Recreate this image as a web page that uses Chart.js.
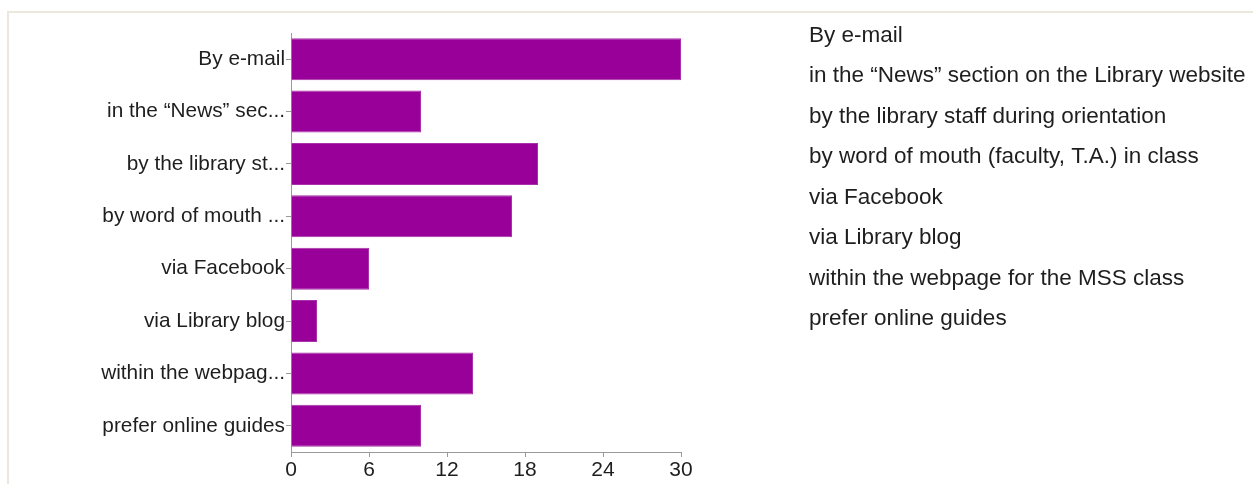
<!DOCTYPE html>
<html>
<head>
<meta charset="utf-8">
<script src="https://cdn.jsdelivr.net/npm/chart.js@4"></script>
<style>
html,body{margin:0;padding:0;background:#fff;}
#wrap{position:relative;width:1253px;height:484px;overflow:hidden;}
#frame{position:absolute;left:7px;top:11px;width:1260px;height:500px;border-top:2px solid #ebe9dc;border-left:2px solid #ece7dc;box-sizing:border-box;}
#c{position:absolute;left:0;top:0;}
</style>
</head>
<body>
<div id="wrap">
<div id="frame"></div>
<canvas id="c" width="1253" height="484"></canvas>
</div>
<script>
const categories = [
  "By e-mail",
  "in the \u201cNews\u201d section on the Library website",
  "by the library staff during orientation",
  "by word of mouth (faculty, T.A.) in class",
  "via Facebook",
  "via Library blog",
  "within the webpage for the MSS class",
  "prefer online guides"
];
const tickLabels = [
  "By e-mail",
  "in the \u201cNews\u201d sec...",
  "by the library st...",
  "by word of mouth ...",
  "via Facebook",
  "via Library blog",
  "within the webpag...",
  "prefer online guides"
];
const values = [30, 10, 19, 17, 6, 2, 14, 10];
const xTicks = [0, 6, 12, 18, 24, 30];

const FONT = "'Liberation Sans', Arial, sans-serif";

const sideList = {
  id: 'sideList',
  afterDraw(chart) {
    const ctx = chart.ctx;
    ctx.save();
    ctx.font = "22.5px " + FONT;
    ctx.fillStyle = "#1e1e1e";
    ctx.textAlign = "left";
    ctx.textBaseline = "middle";
    categories.forEach((c, i) => {
      ctx.fillText(c, 809, 35.5 + i * 40.5);
    });
    ctx.restore();
  }
};

new Chart(document.getElementById('c'), {
  type: 'bar',
  data: {
    labels: tickLabels,
    datasets: [{
      data: values,
      backgroundColor: '#990099',
      borderColor: '#a830a8',
      borderWidth: 1,
      barPercentage: 0.8,
      categoryPercentage: 1.0
    }]
  },
  options: {
    indexAxis: 'y',
    responsive: false,
    animation: false,
    layout: { padding: { top: 33, right: 572, left: 0, bottom: 0 } },
    plugins: { legend: { display: false }, tooltip: { enabled: false } },
    scales: {
      x: {
        min: 0, max: 30,
        afterBuildTicks(scale) { scale.ticks = xTicks.map(v => ({ value: v })); },
        afterFit(scale) { scale.height = 32; },
        grid: { drawOnChartArea: false, drawTicks: true, tickLength: 5, color: '#9a9a9a' },
        border: { display: true, color: '#9a9a9a', width: 1 },
        ticks: { color: '#1e1e1e', font: { family: FONT, size: 21 }, padding: 1, maxRotation: 0 }
      },
      y: {
        afterFit(scale) { scale.width = 291; },
        grid: { offset: false, drawOnChartArea: false, drawTicks: true, tickLength: 5, color: '#9a9a9a' },
        border: { display: true, color: '#9a9a9a', width: 1 },
        ticks: { color: '#1e1e1e', font: { family: FONT, size: 20.8 }, padding: 1 }
      }
    }
  },
  plugins: [sideList]
});
</script>
</body>
</html>
